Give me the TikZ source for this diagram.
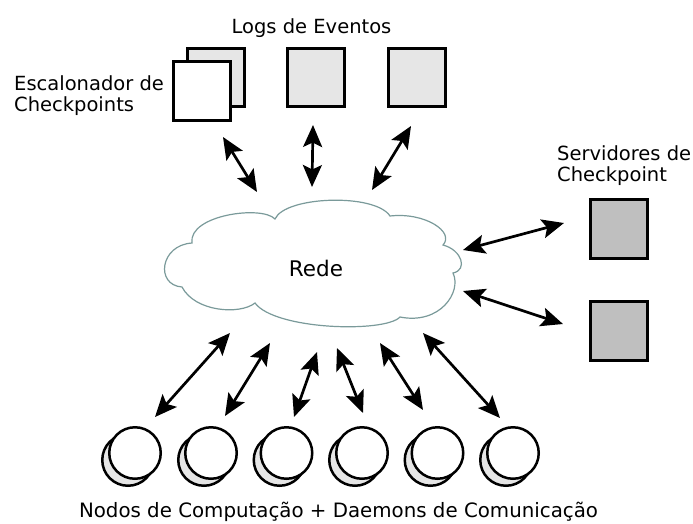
\documentclass[tikz,border=0pt]{standalone}
\usepackage{fontspec}
\setmainfont{DejaVu Sans}
\usetikzlibrary{arrows.meta}
\definecolor{lightfill}{HTML}{E6E6E6}
\definecolor{srvfill}{HTML}{BFBFBF}
\definecolor{cloudline}{HTML}{7A9A9A}
\begin{document}
\begin{tikzpicture}[x=1pt,y=-1pt,
  >={Stealth[length=22pt,width=19pt,inset=4.5pt]},
  lbl/.style={font=\fontsize{19.5}{23}\selectfont, inner sep=0pt},
  box/.style={draw, line width=2.7pt, minimum width=57.5pt, minimum height=58.5pt, inner sep=0pt},
  proc/.style={draw, circle, line width=2.5pt, minimum size=51.5pt, inner sep=0pt},
  link/.style={line width=2.7pt, <->}
]
\useasboundingbox (0,0) rectangle (693,523);

% checkpoint scheduler (two stacked boxes) and event logs
\node[box, fill=lightfill] (schedback) at (216,77.5) {};
\node[box, fill=white] (sched) at (202,91) {};
\node[box, fill=lightfill] (logA) at (316,77.5) {};
\node[box, fill=lightfill] (logB) at (417,77.5) {};

% checkpoint servers
\node[box, fill=srvfill] (srvA) at (619,229) {};
\node[box, fill=srvfill] (srvB) at (619,331) {};

% labels
\node[lbl, anchor=base] (logslbl) at (311.5,33) {Logs de Eventos};
\node[lbl, anchor=base west] (esclbl1) at (14,90) {Escalonador de};
\node[lbl, anchor=base west] (esclbl2) at (14,111.5) {Checkpoints};
\node[lbl, anchor=base west] (srvlbl1) at (557,160) {Servidores de};
\node[lbl, anchor=base west] (srvlbl2) at (557,181) {Checkpoint};
\node[lbl, font=\fontsize{19.8}{23}\selectfont, anchor=base] (nodeslbl) at (338.5,517) {Nodos de Computação + Daemons de Comunicação};

% network cloud
\draw[cloudline, line width=1.2pt, fill=white]
  (192,243) .. controls (188,215) and (262,205) .. (275,219)
  .. controls (285,196) and (375,193) .. (390,216)
  .. controls (425,212) and (455,232) .. (443,245)
  .. controls (462,250) and (468,270) .. (453,273)
  .. controls (462,292) and (440,325) .. (400,317)
  .. controls (385,333) and (275,330) .. (255,303)
  .. controls (240,315) and (195,312) .. (182,287)
  .. controls (155,285) and (160,245) .. (192,243) -- cycle;
\node[lbl, font=\fontsize{21.5}{25}\selectfont] (net) at (316,268) {Rede};

% computing nodes with their communication daemons
\foreach \i/\x in {1/135,2/211,3/286.5,4/362,5/437.5,6/513}{
  \node[proc, fill=lightfill] (daemon\i) at (\x-7,460) {};
  \node[proc, fill=white] (comp\i) at (\x,453) {};
}

% end points of the links around the network
\coordinate (t1a) at (223,137); \coordinate (t1b) at (257,192);
\coordinate (t2a) at (313,125); \coordinate (t2b) at (312,187);
\coordinate (t3a) at (411,126); \coordinate (t3b) at (372,190);
\coordinate (r1a) at (463,250); \coordinate (r1b) at (564,223);
\coordinate (r2a) at (463,291); \coordinate (r2b) at (563,324);
\coordinate (b1a) at (155,417); \coordinate (b1b) at (230,333);
\coordinate (b2a) at (225,416); \coordinate (b2b) at (270,343);
\coordinate (b3a) at (294,417); \coordinate (b3b) at (317,352);
\coordinate (b4a) at (337,348); \coordinate (b4b) at (363,413);
\coordinate (b5a) at (380,343); \coordinate (b5b) at (423,410);
\coordinate (b6a) at (423,333); \coordinate (b6b) at (500,418);

\foreach \p in {t1,t2,t3,r1,r2,b1,b2,b3,b4,b5,b6}{
  \draw[link] (\p a) -- (\p b);
}
\end{tikzpicture}
\end{document}
